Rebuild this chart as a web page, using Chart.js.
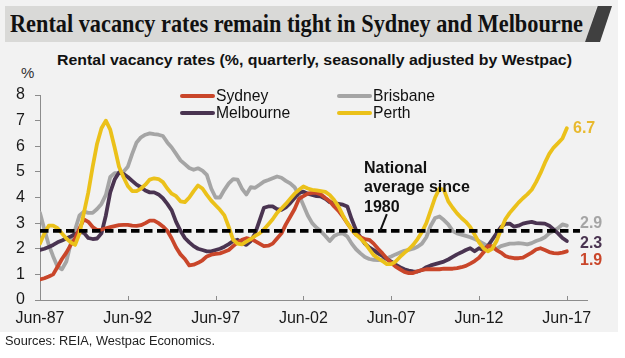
<!DOCTYPE html>
<html><head><meta charset="utf-8">
<script src="https://cdn.jsdelivr.net/npm/chart.js@4.4.0/dist/chart.umd.min.js"></script>
<style>
html,body{margin:0;padding:0;width:625px;height:358px;overflow:hidden;background:#fff;font-family:'Liberation Sans',Arial,sans-serif;}
#panel{position:absolute;left:0;top:0;width:618px;height:332px;background:#f2f2f2;}
#band{position:absolute;left:5px;top:6px;width:593px;height:36px;background:#d9d9d7;clip-path:polygon(0 0,592px 0,580px 36px,0 36px);}
#stripe{position:absolute;left:585px;top:6px;width:28px;height:36px;background:#404040;clip-path:polygon(12.7px 0,27px 0,15px 36px,0 36px);}
.t{position:absolute;white-space:nowrap;transform-origin:0 0;}
#title{left:10px;top:11.4px;font:700 25px/25px 'Liberation Serif','Times New Roman',serif;color:#111;}
#subtitle{left:57px;top:52.7px;font:700 14.5px/14.5px 'Liberation Sans',Arial,sans-serif;color:#111;}
#pct{left:21px;top:65px;font:400 15px/15px 'Liberation Sans',Arial,sans-serif;color:#333;}
#sources{left:5px;top:334.8px;font:400 12px/12px 'Liberation Sans',Arial,sans-serif;color:#222;}
.leg{position:absolute;height:18px;font:400 15.7px/18px 'Liberation Sans',Arial,sans-serif;color:#111;white-space:nowrap;}
.sw{position:absolute;height:4px;border-radius:2px;}
#note{left:364px;top:158.2px;font:700 16px/19.2px 'Liberation Sans',Arial,sans-serif;color:#111;}
.end{position:absolute;font:700 16px/16px 'Liberation Sans',Arial,sans-serif;white-space:nowrap;}
canvas{position:absolute;left:0;top:0;}
</style></head>
<body>
<div id="panel"></div>
<div id="band"></div><div id="stripe"></div>
<div class="t" id="title">Rental vacancy rates remain tight in Sydney and Melbourne</div>
<div class="t" id="subtitle">Rental vacancy rates (%, quarterly, seasonally adjusted by Westpac)</div>
<div class="t" id="pct">%</div>
<canvas id="c" width="625" height="358"></canvas>
<div id="legend"></div>
<div class="t" id="note">National<br>average since<br>1980</div>
<div id="ends"></div>
<div class="t" id="sources">Sources: REIA, Westpac Economics.</div>
<script>
// Quarterly data, Jun-87 .. Jun-17 (121 quarters)
const xTickLabels = ['Jun-87','Jun-92','Jun-97','Jun-02','Jun-07','Jun-12','Jun-17'];
const seriesNames = ['Sydney','Melbourne','Brisbane','Perth'];
const seriesColors = ['#c9462a','#4a3451','#a5a5a5','#ebc11a'];
const endLabelColors = ['#c9462a','#4a3451','#a5a5a5','#e8b92e'];
const sydney = [
0.8,0.85,0.92,1.0,1.3,1.6,1.85,2.15,2.4,2.8,
3.15,3.05,2.85,2.73,2.75,2.8,2.84,2.88,2.92,2.93,
2.93,2.9,2.89,2.92,3.0,3.1,3.1,3.0,2.87,2.7,
2.4,2.05,1.78,1.6,1.35,1.38,1.45,1.55,1.7,1.77,
1.8,1.82,1.88,1.95,2.1,2.25,2.35,2.41,2.38,2.3,
2.2,2.1,2.12,2.2,2.4,2.6,2.95,3.25,3.55,3.95,
4.05,4.15,4.18,4.18,4.12,3.98,3.85,3.65,3.48,3.25,
3.0,2.75,2.55,2.45,2.38,2.35,2.2,2.0,1.82,1.62,
1.45,1.3,1.2,1.1,1.05,1.05,1.12,1.17,1.2,1.2,
1.2,1.2,1.22,1.22,1.22,1.24,1.28,1.33,1.42,1.52,
1.65,1.85,2.1,2.1,1.95,1.85,1.72,1.66,1.63,1.63,
1.65,1.75,1.85,1.97,2.02,1.95,1.87,1.83,1.82,1.85,
1.9];
const melbourne = [
1.95,2.0,2.07,2.15,2.25,2.32,2.4,2.48,2.57,2.66,
2.62,2.42,2.38,2.4,2.6,3.3,4.2,4.7,4.98,4.92,
4.8,4.65,4.5,4.4,4.27,4.2,4.2,4.12,3.97,3.75,
3.5,3.05,2.7,2.42,2.25,2.1,2.0,1.95,1.9,1.9,
1.95,2.0,2.08,2.18,2.3,2.35,2.22,2.15,2.3,2.6,
3.1,3.6,3.65,3.65,3.55,3.52,3.62,3.78,3.98,4.18,
4.23,4.15,4.1,4.05,4.04,3.95,3.82,3.78,3.75,3.72,
3.65,3.15,2.72,2.45,2.2,2.05,1.95,1.82,1.72,1.6,
1.5,1.38,1.28,1.2,1.15,1.12,1.11,1.17,1.28,1.35,
1.4,1.45,1.5,1.58,1.68,1.78,1.86,1.95,2.02,1.9,
2.02,1.95,2.1,2.35,2.6,2.85,2.97,2.98,2.86,2.9,
2.98,3.02,3.05,3.0,2.99,2.98,2.9,2.75,2.6,2.42,
2.3];
const brisbane = [
3.4,2.75,2.15,1.7,1.3,1.2,1.5,2.2,2.75,3.3,
3.45,3.4,3.4,3.55,3.75,4.1,4.8,4.95,4.95,5.0,
5.2,5.7,6.15,6.35,6.45,6.5,6.47,6.45,6.4,6.15,
5.95,5.7,5.45,5.3,5.15,5.08,5.14,5.05,4.88,4.35,
4.0,4.0,4.3,4.55,4.72,4.7,4.35,4.12,4.4,4.38,
4.5,4.62,4.68,4.75,4.82,4.77,4.65,4.55,4.4,4.1,
3.7,3.3,3.0,2.82,2.68,2.5,2.3,2.5,2.58,2.6,
2.48,2.2,1.98,1.82,1.68,1.6,1.57,1.56,1.58,1.63,
1.7,1.78,1.85,1.92,1.96,2.0,2.08,2.2,2.45,2.9,
3.2,3.26,3.12,2.95,2.7,2.6,2.55,2.5,2.45,2.38,
2.3,2.2,2.1,2.02,2.0,2.1,2.15,2.2,2.2,2.22,
2.2,2.17,2.22,2.3,2.36,2.45,2.6,2.7,2.8,2.95,
2.9];
const perth = [
2.2,2.6,2.9,2.9,2.8,2.6,2.4,2.25,2.15,2.6,
3.4,4.2,5.2,6.1,6.7,7.0,6.65,5.95,5.2,4.8,
4.45,4.25,4.25,4.35,4.5,4.7,4.75,4.72,4.6,4.35,
4.15,4.05,3.85,3.82,4.0,4.25,4.47,4.35,4.1,3.88,
3.7,3.52,3.3,2.85,2.35,2.2,2.17,2.28,2.38,2.5,
2.6,2.75,2.95,3.15,3.4,3.57,3.75,3.95,4.15,4.3,
4.43,4.35,4.3,4.28,4.25,4.22,4.1,3.9,3.65,3.3,
3.0,2.75,2.55,2.4,2.22,1.98,1.75,1.63,1.52,1.4,
1.4,1.5,1.68,1.84,1.98,2.15,2.38,2.65,3.0,3.5,
4.0,4.35,4.3,3.85,3.6,3.38,3.2,3.05,2.85,2.55,
2.25,2.02,1.9,2.0,2.3,2.75,3.15,3.4,3.6,3.8,
3.97,4.12,4.3,4.6,4.95,5.35,5.7,5.95,6.12,6.3,
6.7];
const nationalAverage = 2.7;          // % since 1980
const nationalAverageSpan = [0, 123]; // quarter index range of dashed line
const leader = [[77.5, 2.7], [79, 3.35]]; // annotation pointer (quarter, %)

const series = [sydney, melbourne, brisbane, perth];
const toPts = arr => arr.map((v, i) => ({x: i, y: v}));

function fit(id, w){ const el=document.getElementById(id); const r=el.getBoundingClientRect().width; el.style.transform='scaleX('+(w/r)+')'; }
fit('title', 573); fit('subtitle', 515); fit('sources', 210);

const legPos = [[180,88],[180,105.3],[337,88],[337,105.3]];
const lg = document.getElementById('legend');
seriesNames.forEach((n,i)=>{
  const [lx,ly]=legPos[i];
  const sw=document.createElement('div'); sw.className='sw';
  sw.style.left=lx+'px'; sw.style.top=(ly+6)+'px'; sw.style.width='35px'; sw.style.background=seriesColors[i];
  lg.appendChild(sw);
  const t=document.createElement('div'); t.className='leg'; t.textContent=n;
  t.style.left=(lx+36)+'px'; t.style.top=(ly-1)+'px';
  lg.appendChild(t);
});

const endPos = [[580,251.5],[580,234.9],[580,215.2],[573,119.9]];
const ends = document.getElementById('ends');
series.forEach((s,i)=>{
  const e=document.createElement('div'); e.className='end';
  e.textContent=s[s.length-1].toFixed(1);
  e.style.left=endPos[i][0]+'px'; e.style.top=endPos[i][1]+'px'; e.style.color=endLabelColors[i];
  ends.appendChild(e);
});

const extras = {
  id:'extras',
  afterDraw(chart){
    const {ctx, scales:{x,y}} = chart;
    ctx.save();
    ctx.strokeStyle='#8c8c8c'; ctx.lineWidth=1;
    x.ticks.forEach(t=>{
      const px=Math.round(x.getPixelForValue(t.value))+0.5;
      ctx.beginPath(); ctx.moveTo(px, y.bottom); ctx.lineTo(px, y.bottom-4); ctx.stroke();
    });
    ctx.strokeStyle='#111'; ctx.lineWidth=2;
    ctx.beginPath();
    ctx.moveTo(x.getPixelForValue(leader[0][0]), y.getPixelForValue(leader[0][1]));
    ctx.lineTo(x.getPixelForValue(leader[1][0]), y.getPixelForValue(leader[1][1]));
    ctx.stroke();
    ctx.restore();
  }
};

Chart.defaults.font.family = "'Liberation Sans', Arial, sans-serif";
const datasets = series.map((s,i)=>({
  label: seriesNames[i], data: toPts(s), borderColor: seriesColors[i], backgroundColor: seriesColors[i],
  borderWidth: 3.8, pointRadius: 0, tension: 0, borderJoinStyle:'round', borderCapStyle:'round',
  order: i===3 ? 1 : (i===0 ? 2 : (i===1 ? 3 : 4))
}));
datasets.push({
  label:'National average', data: nationalAverageSpan.map(q=>({x:q, y:nationalAverage})),
  borderColor:'#000', borderWidth:3.8, borderDash:[8.5,4.5], pointRadius:0, order:0
});

new Chart(document.getElementById('c'), {
  type:'line',
  data:{datasets},
  plugins:[extras],
  options:{
    responsive:false, animation:false, devicePixelRatio:1,
    layout:{padding:{top:95,right:38,left:0,bottom:0}},
    plugins:{legend:{display:false}, tooltip:{enabled:false}},
    scales:{
      x:{type:'linear', min:0, max:124.6,
        afterFit(s){ s.height = 58; },
        afterBuildTicks(s){ s.ticks = xTickLabels.map((_,i)=>({value:i*20})); },
        ticks:{autoSkip:false, maxRotation:0, padding:9, color:'#1a1a1a', font:{size:16},
          callback:(v)=> xTickLabels[Math.round(v/20)] },
        grid:{display:false, drawTicks:false},
        border:{display:true, color:'#8c8c8c', width:1}
      },
      y:{min:0, max:8,
        afterFit(s){ s.width = 40; },
        ticks:{stepSize:1, padding:10, color:'#1a1a1a', font:{size:16}},
        grid:{drawOnChartArea:false, drawTicks:true, tickLength:5, color:'#8c8c8c'},
        border:{display:true, color:'#8c8c8c', width:1}
      }
    }
  }
});
</script>
</body></html>
